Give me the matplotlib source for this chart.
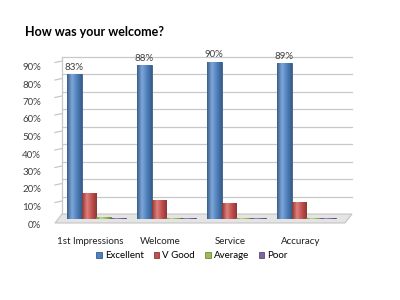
import matplotlib
matplotlib.use("Agg")
import matplotlib.pyplot as plt
import matplotlib.transforms as mtransforms
from matplotlib.patches import Polygon
from matplotlib.colors import LinearSegmentedColormap
import numpy as np

plt.rcParams['font.family'] = ['Lato', 'DejaVu Sans']

# data
categories = ["1st Impressions", "Welcome", "Service", "Accuracy"]
series_names = ["Excellent", "V Good", "Average", "Poor"]
excellent = [0.83, 0.88, 0.90, 0.89]
v_good = [0.15, 0.11, 0.09, 0.10]
average = [0.012, 0.008, 0.008, 0.008]
poor = [0.004, 0.004, 0.004, 0.004]
yticks = [0, 0.1, 0.2, 0.3, 0.4, 0.5, 0.6, 0.7, 0.8, 0.9]

colors = ["#4F81BD", "#C0504D", "#9BBB59", "#8064A2"]
lights = ["#7FA7D8", "#E07F7C", "#BCD88A", "#A48CC4"]
edges = ["#385D8A", "#8C3836", "#71893F", "#5C4776"]

fig = plt.figure(figsize=(4, 3), dpi=100)
ax = fig.add_axes([0.1375, 0.27, 0.725, 0.525])

x = np.arange(len(categories))
w = 0.21
all_series = [excellent, v_good, average, poor]

# back wall / side wall / floor of the fake 3d box
back = mtransforms.ScaledTranslation(7 / 100, 5 / 100, fig.dpi_scale_trans)
ytr = ax.get_yaxis_transform()
for t in yticks[1:]:
    ax.plot([0, 1], [t, t], transform=ytr + back, color="#c8c8c8", lw=0.9, zorder=0, clip_on=False)
    ax.plot([0, 0.0241], [t - 0.0057, t + 0.0029], transform=ytr, color="#c8c8c8", lw=0.9, zorder=0, clip_on=False)
ax.plot([0, 0], [0.0, 0.9], transform=ytr + back, color="#c8c8c8", lw=0.9, zorder=0, clip_on=False)

ax.set_xlim(-0.59, 3.55)
ax.set_ylim(0, 0.9)

fig.canvas.draw()
pts_front = ax.transAxes.transform([[0, 0], [1, 0]]) + np.array([0, -4])
pts_back = ax.transAxes.transform([[1, 0], [0, 0]]) + np.array([7, 5])
floor = Polygon(np.vstack([pts_front, pts_back]), closed=True, transform=mtransforms.IdentityTransform(),
                facecolor="#e4e4e4", edgecolor="#c4c4c4", lw=0.8, zorder=1, clip_on=False)
ax.add_patch(floor)

for i, vals in enumerate(all_series):
    bars = ax.bar(x + (i - 1.5) * w, vals, w, color=colors[i], edgecolor=edges[i], lw=0.6,
                  label=series_names[i], zorder=3)
    cmap = LinearSegmentedColormap.from_list("c%d" % i, [edges[i], lights[i], colors[i], edges[i]])
    grad = np.linspace(0, 1, 64).reshape(1, -1)
    for b in bars:
        bx, by = b.get_x(), b.get_y()
        im = ax.imshow(grad, cmap=cmap, aspect="auto", zorder=3.5,
                       extent=[bx, bx + b.get_width(), by, by + b.get_height()])
        im.set_clip_path(b)

for xi, v in zip(x, excellent):
    ax.text(xi - 1.5 * w, v + 0.012, "{:.0f}%".format(v * 100), ha="center", va="bottom",
            fontsize=7, color="#404040", zorder=4)

ax.set_xlim(-0.59, 3.55)
ax.set_ylim(0, 0.9)
ax.set_yticks(yticks)
ax.set_yticklabels(["{:.0f}%".format(t * 100) for t in yticks], fontsize=7, color="#404040")
ax.set_xticks(x)
ax.set_xticklabels(categories, fontsize=7, color="#202020")
ax.tick_params(axis="y", length=0, pad=10)
ax.tick_params(axis="x", length=0, pad=13)
down = mtransforms.ScaledTranslation(0, -5 / 100, fig.dpi_scale_trans)
for lab in ax.get_yticklabels():
    lab.set_transform(lab.get_transform() + down)
left = mtransforms.ScaledTranslation(-6 / 100, 0, fig.dpi_scale_trans)
for lab in ax.get_xticklabels():
    lab.set_transform(lab.get_transform() + left)
for s in ax.spines.values():
    s.set_visible(False)
ax.patch.set_alpha(0)

fig.text(25 / 400, 1 - 32 / 300, "How was your welcome?", fontsize=9, fontweight="bold",
         ha="left", va="center", color="#000000")

fig.legend(loc="center", bbox_to_anchor=(0.48, 1 - 256 / 300), ncol=4, frameon=False,
           fontsize=7, handlelength=0.6, handleheight=0.6, handletextpad=0.3, columnspacing=1.0)

fig.savefig("out.png", dpi=100)
